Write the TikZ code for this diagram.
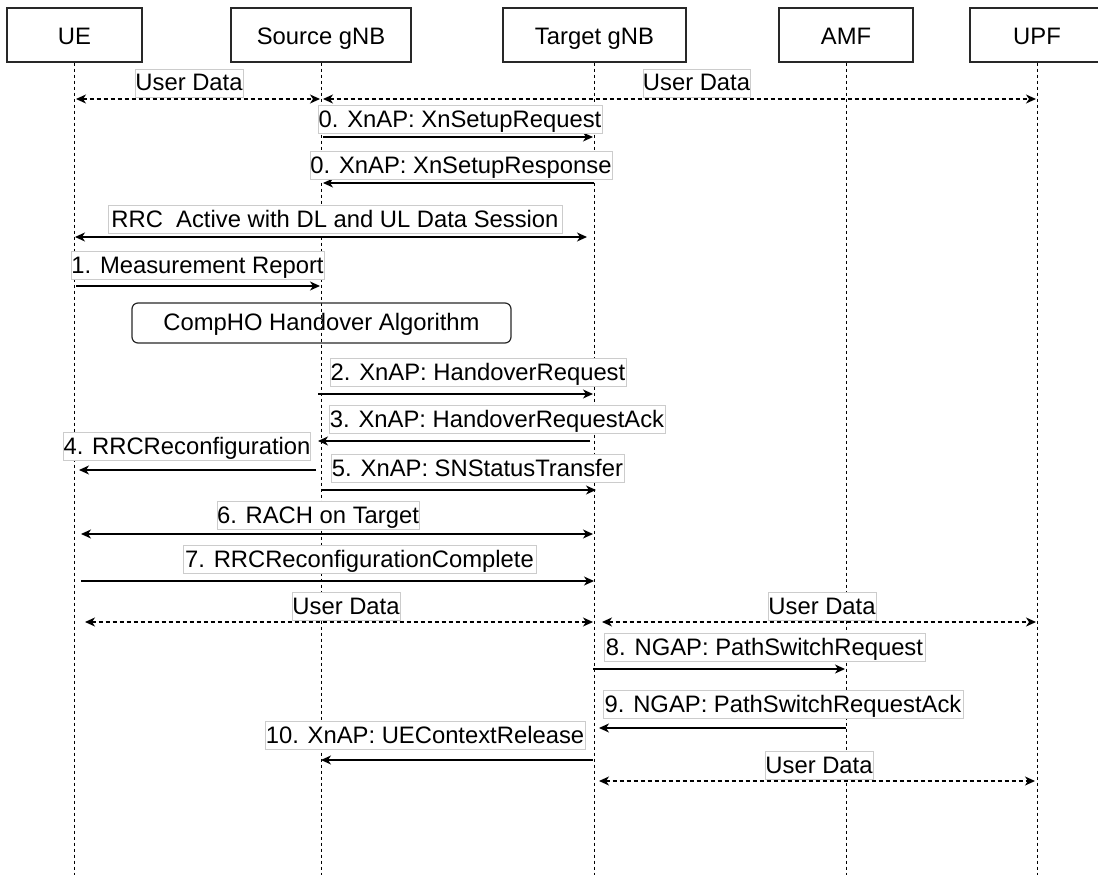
\documentclass[tikz,border=0pt]{standalone}
\usepackage{fontspec}
\setmainfont{Liberation Sans}
\usetikzlibrary{arrows.meta}
\definecolor{lblborder}{RGB}{204,204,204}
\definecolor{boxborder}{RGB}{40,40,40}
\tikzset{
  txt/.style={font=\fontsize{23.8}{28}\selectfont},
  actor/.style={txt, draw=boxborder, line width=1.2pt, minimum height=54pt, inner sep=0pt, text height=20pt, text depth=0pt},
  procbox/.style={txt, draw=boxborder, line width=1.2pt, rounded corners=6pt, minimum height=40pt, inner sep=0pt, text height=16pt, text depth=0.6pt},
  lifeline/.style={draw=black, line width=1pt, dash pattern=on 3pt off 3pt},
  tip/.tip={Stealth[length=10pt,width=9pt,inset=3pt]},
  msg/.style={draw=black, line width=1.3pt, -tip},
  bimsg/.style={draw=black, line width=1.3pt, tip-tip},
  datamsg/.style={bimsg, dash pattern=on 4pt off 3pt},
  lbl/.style={txt, draw=lblborder, line width=0.8pt, fill=white, inner sep=0pt, minimum height=28pt, text height=17pt, text depth=1pt}
}
\begin{document}
\begin{tikzpicture}[x=1pt,y=-1pt]
\clip (0,0) rectangle (1098,875);
\fill[white] (0,0) rectangle (1098,875);

% participants
\node[actor, minimum width=135pt] (ue)  at (74.5,35) {UE};
\node[actor, minimum width=180pt] (src) at (321,35) {Source gNB};
\node[actor, minimum width=183pt] (tgt) at (594.5,35) {Target gNB};
\node[actor, minimum width=134pt] (amf) at (846,35) {AMF};
\node[actor, minimum width=134pt] (upf) at (1037,35) {UPF};

\coordinate (ueEnd)  at (74.5,876);
\coordinate (srcEnd) at (321,876);
\coordinate (tgtEnd) at (594.5,876);
\coordinate (amfEnd) at (846,876);
\coordinate (upfEnd) at (1037,876);

\draw[lifeline] (ue.south)  -- (ueEnd);
\draw[lifeline] (src.south) -- (srcEnd);
\draw[lifeline] (tgt.south) -- (tgtEnd);
\draw[lifeline] (amf.south) -- (amfEnd);
\draw[lifeline] (upf.south) -- (upfEnd);

% message end points
\coordinate (ud1a) at (76,99);   \coordinate (ud1b) at (320,99);
\coordinate (ud2a) at (323,99);  \coordinate (ud2b) at (1036,99);
\coordinate (m0aa) at (323,137); \coordinate (m0ab) at (593,137);
\coordinate (m0ba) at (594,183); \coordinate (m0bb) at (323,183);
\coordinate (rrca) at (75,237);  \coordinate (rrcb) at (587,237);
\coordinate (m1a) at (76,286);   \coordinate (m1b) at (320,286);
\coordinate (m2a) at (318,394);  \coordinate (m2b) at (593,394);
\coordinate (m3a) at (590,441);  \coordinate (m3b) at (318,441);
\coordinate (m4a) at (316,470);  \coordinate (m4b) at (79,470);
\coordinate (m5a) at (321,490);  \coordinate (m5b) at (596,490);
\coordinate (m6a) at (81,534);   \coordinate (m6b) at (593,534);
\coordinate (m7a) at (81,581);   \coordinate (m7b) at (594,581);
\coordinate (ud3a) at (85,622);  \coordinate (ud3b) at (593,622);
\coordinate (ud4a) at (602,622); \coordinate (ud4b) at (1036,622);
\coordinate (m8a) at (593,669);  \coordinate (m8b) at (845,669);
\coordinate (m9a) at (846,728);  \coordinate (m9b) at (599,728);
\coordinate (m10a) at (593,760); \coordinate (m10b) at (321,760);
\coordinate (ud5a) at (599,781); \coordinate (ud5b) at (1035,781);

% messages
\draw[datamsg] (ud1a) -- (ud1b);
\draw[datamsg] (ud2a) -- (ud2b);
\draw[msg] (m0aa) -- (m0ab);
\draw[msg] (m0ba) -- (m0bb);
\draw[bimsg] (rrca) -- (rrcb);
\draw[msg] (m1a) -- (m1b);
\draw[msg] (m2a) -- (m2b);
\draw[msg] (m3a) -- (m3b);
\draw[msg] (m4a) -- (m4b);
\draw[msg] (m5a) -- (m5b);
\draw[bimsg] (m6a) -- (m6b);
\draw[msg] (m7a) -- (m7b);
\draw[datamsg] (ud3a) -- (ud3b);
\draw[datamsg] (ud4a) -- (ud4b);
\draw[msg] (m8a) -- (m8b);
\draw[msg] (m9a) -- (m9b);
\draw[msg] (m10a) -- (m10b);
\draw[datamsg] (ud5a) -- (ud5b);

% process box
\node[procbox, minimum width=379pt] (comp) at (321.5,323) {CompHO Handover Algorithm};

% labels
\node[lbl, minimum width=108pt] (lud1) at (189,83) {User Data};
\node[lbl, minimum width=107pt] (lud2) at (696.5,83) {User Data};
\node[lbl, minimum width=284pt] (l0a) at (460,119.5) {0. XnAP: XnSetupRequest};
\node[lbl, minimum width=302pt] (l0b) at (461,165.5) {0. XnAP: XnSetupResponse};
\node[lbl, minimum width=454pt] (lrrc) at (335,219.5) {RRC\ \ Active with DL and UL Data Session};
\node[lbl, minimum width=253pt] (l1) at (197.5,265.5) {1. Measurement Report};
\node[lbl, minimum width=296pt] (l2) at (478,372.5) {2. XnAP: HandoverRequest};
\node[lbl, minimum width=336pt] (l3) at (497,419) {3. XnAP: HandoverRequestAck};
\node[lbl, minimum width=246pt] (l4) at (187,446) {4. RRCReconfiguration};
\node[lbl, minimum width=293pt] (l5) at (477.5,468.5) {5. XnAP: SNStatusTransfer};
\node[lbl, minimum width=202pt] (l6) at (318,515) {6. RACH on Target};
\node[lbl, minimum width=353pt] (l7) at (359.5,559.5) {7. RRCReconfigurationComplete};
\node[lbl, minimum width=108pt] (lud3) at (346,606.5) {User Data};
\node[lbl, minimum width=108pt] (lud4) at (822,606.5) {User Data};
\node[lbl, minimum width=321pt] (l8) at (764.5,647.5) {8. NGAP: PathSwitchRequest};
\node[lbl, minimum width=360pt] (l9) at (783,704) {9. NGAP: PathSwitchRequestAck};
\node[lbl, minimum width=320pt] (l10) at (425,735) {10. XnAP: UEContextRelease};
\node[lbl, minimum width=108pt] (lud5) at (819,765.5) {User Data};
\end{tikzpicture}
\end{document}
